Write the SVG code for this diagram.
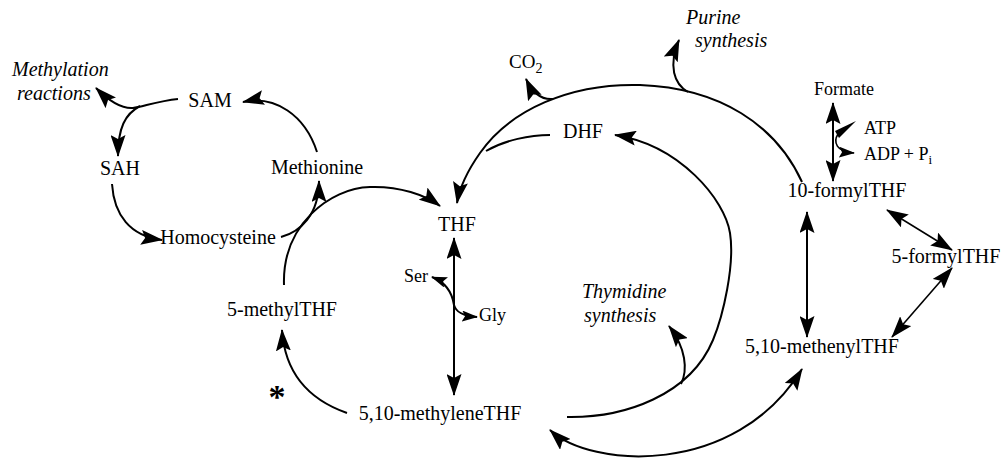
<svg xmlns="http://www.w3.org/2000/svg" width="1003" height="460" viewBox="0 0 1003 460">
<defs>
<style>
text{font-family:"Liberation Serif","Times New Roman",serif;font-size:20px;fill:#000}
.it{font-style:italic}
.sm{font-size:18px}
.c{text-anchor:middle}
.ln{fill:none;stroke:#000;stroke-width:2}
.thin{stroke-width:1.6}
.e{marker-end:url(#ah)}
.s{marker-start:url(#ah)}
.es{marker-end:url(#ahs)}
.ss{marker-start:url(#ahs)}
</style>
<marker id="ah" viewBox="0 0 22 15" refX="21" refY="7.5" markerWidth="22" markerHeight="15" markerUnits="userSpaceOnUse" orient="auto-start-reverse"><path d="M0,0 L22,7.5 L0,15 L4,7.5 Z" fill="#000"/></marker>
<marker id="ahs" viewBox="0 0 16 11" refX="15" refY="5.5" markerWidth="16" markerHeight="11" markerUnits="userSpaceOnUse" orient="auto-start-reverse"><path d="M0,0 L16,5.5 L0,11 L3,5.5 Z" fill="#000"/></marker>
</defs>
<rect width="1003" height="460" fill="#fff"/>

<g id="connectors">
<path class="ln e" d="M178,99 C158,101 142,107 133,108 C120,109 108,100 96,88"/>
<path class="ln e" d="M140,106 C125,114 118,128 118,156"/>
<path class="ln e" d="M112,184 C114,215 130,236 162,240"/>
<path class="ln e" d="M317,152 C305,115 275,95 243,102"/>
<path class="ln e" d="M281,237 C300,232 319,215 319,181"/>
<path class="ln e" d="M284,285 C282,225 330,188 370,187 C400,186 425,195 440,206"/>
<path class="ln e" d="M347,413 C310,400 285,375 282,330"/>
<path class="ln e s" d="M454,238 L454,395"/>
<path class="ln ss es" d="M432,277 C445,282 452,292 454,305 C456,312 462,316 477,317"/>
<path class="ln e" d="M802,182 C776,125 720,88 640,85 C570,83 510,110 480,153 C468,170 460,185 457,203"/>
<path class="ln" d="M550,135 C530,135 505,140 486,151"/>
<path class="ln e" d="M553,99 C542,100 533,94 526,79"/>
<path class="ln e" d="M688,92 C674,84 668,66 679,40"/>
<path class="ln e" d="M567,417 C625,418 690,395 713,340 C723,316 735,265 730,233 C725,200 680,145 615,135"/>
<path class="ln e" d="M681,384 C688,370 686,348 669,326"/>
<path class="ln e s" d="M550,430 C590,468 735,478 802,369"/>
<path class="ln e s" d="M833,103 L833,181"/>
<polygon points="856,121 835,131 839,138" fill="#000"/>
<path class="ln thin es" d="M838,134 C833,142 836,152 854,153"/>
<path class="ln e s" d="M807,212 L807,337"/>
<path class="ln thin e s" d="M887,210 L952,250"/>
<path class="ln thin e s" d="M952,268 L892,337"/>
</g>

<g id="n-methylation"><text class="it" x="12" y="76">Methylation</text><text class="it" x="17" y="100">reactions</text></g>
<g id="n-sam"><text class="c" x="210" y="107">SAM</text></g>
<g id="n-sah"><text class="c" x="120" y="175">SAH</text></g>
<g id="n-methionine"><text class="c" x="317" y="174">Methionine</text></g>
<g id="n-homocysteine"><text class="c" x="218" y="244">Homocysteine</text></g>
<g id="n-thf"><text class="c" x="457" y="231">THF</text></g>
<g id="n-5methylthf"><text class="c" x="282" y="316">5-methylTHF</text></g>
<g id="n-methylenethf"><text class="c" x="440" y="420">5,10-methyleneTHF</text></g>
<g id="n-ser"><text class="sm" x="404" y="282">Ser</text></g>
<g id="n-gly"><text class="sm" x="479" y="321">Gly</text></g>
<g id="n-dhf"><text class="c" x="583" y="138">DHF</text></g>
<g id="n-co2"><text x="509" y="68" style="font-size:19px">CO<tspan font-size="14" dy="5">2</tspan></text></g>
<g id="n-purine"><text class="it" x="686" y="24">Purine</text><text class="it" x="695" y="47">synthesis</text></g>
<g id="n-thymidine"><text class="it" x="582" y="298">Thymidine</text><text class="it" x="584" y="322">synthesis</text></g>
<g id="n-formate"><text class="sm c" x="844" y="95">Formate</text></g>
<g id="n-atp"><text class="sm" x="864" y="134">ATP</text></g>
<g id="n-adp"><text class="sm" x="864" y="160">ADP + P<tspan font-size="13" dy="4">i</tspan></text></g>
<g id="n-10formylthf"><text class="c" x="847" y="197">10-formylTHF</text></g>
<g id="n-5formylthf"><text class="c" x="946" y="263">5-formylTHF</text></g>
<g id="n-methenylthf"><text class="c" x="822" y="353">5,10-methenylTHF</text></g>
<g id="n-asterisk"><text class="c" x="277" y="408" style="font-size:34px;font-weight:bold">*</text></g>
</svg>
